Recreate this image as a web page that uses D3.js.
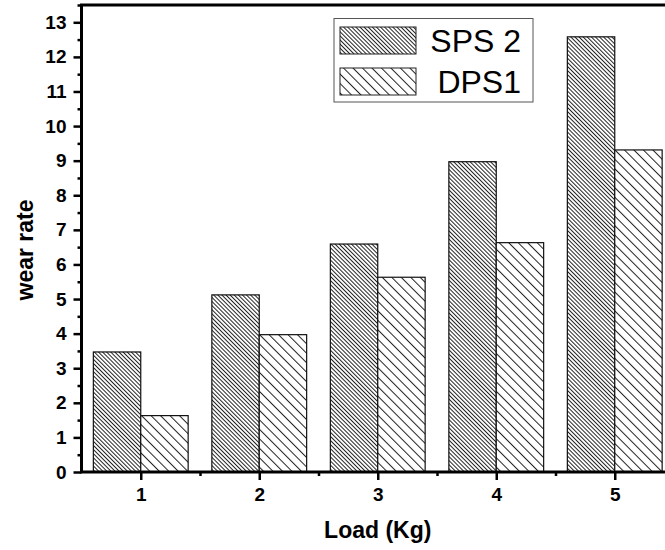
<!DOCTYPE html>
<html><head><meta charset="utf-8">
<script src="https://cdn.jsdelivr.net/npm/d3@7/dist/d3.min.js"></script>
<style>body{margin:0;background:#fff}svg{display:block}</style>
</head><body><svg id="c" width="665" height="550"></svg>
<script>
const loads = [1, 2, 3, 4, 5];
const sps2 = [3.47, 5.12, 6.59, 8.97, 12.58];
const dps1 = [1.63, 3.97, 5.63, 6.63, 9.31];
const seriesNames = ["SPS 2", "DPS1"];
const yTicks = [0,1,2,3,4,5,6,7,8,9,10,11,12,13];
const FONT = "Arial, 'Liberation Sans', sans-serif";

const svg = d3.select("#c");
const x = d3.scaleLinear().domain([0.5, 5.5]).range([81.5, 674]);
const y = d3.scaleLinear().domain([0, 13.5]).range([472, 5]);
const bw = x(1.4) - x(1);

const defs = svg.append("defs");
function hatch(id, s) {
  const p = defs.append("pattern").attr("id", id).attr("patternUnits", "userSpaceOnUse")
    .attr("width", s).attr("height", s).attr("patternTransform", "rotate(-45)");
  p.append("rect").attr("width", s).attr("height", s).attr("fill", "#fff");
  p.append("line").attr("x1", 0.5).attr("y1", 0).attr("x2", 0.5).attr("y2", s)
    .attr("stroke", "#222").attr("stroke-width", 1);
}
hatch("hs", 2.9);
hatch("hd", 6.7);

const data = [
  {name: seriesNames[0], vals: sps2, fill: "url(#hs)", off: -1},
  {name: seriesNames[1], vals: dps1, fill: "url(#hd)", off: 0}
];

data.forEach(s => {
  svg.append("g").selectAll("rect").data(loads).join("rect")
    .attr("x", (d) => s.off < 0 ? x(d) - bw : x(d))
    .attr("y", (d, i) => y(s.vals[i]))
    .attr("width", bw)
    .attr("height", (d, i) => y(0) - y(s.vals[i]))
    .attr("fill", s.fill).attr("stroke", "#111").attr("stroke-width", 1.2);
});

// axes
const yAxis = d3.axisLeft(y).tickValues(yTicks).tickSize(8).tickPadding(7).tickFormat(d3.format("d"));
const yg = svg.append("g").attr("transform", `translate(${x(0.5)},0)`).call(yAxis);
const yMinor = d3.axisLeft(y).tickValues(yTicks.map(d => d + 0.5)).tickSize(4).tickFormat("");
const ym = svg.append("g").attr("transform", `translate(${x(0.5)},0)`).call(yMinor);
const xAxis = d3.axisBottom(x).tickValues(loads).tickSize(8).tickPadding(8).tickFormat(d3.format("d"));
const xg = svg.append("g").attr("transform", `translate(0,${y(0)})`).call(xAxis);
const xMinor = d3.axisBottom(x).tickValues(loads.map(d => d + 0.5)).tickSize(4).tickFormat("");
const xm = svg.append("g").attr("transform", `translate(0,${y(0)})`).call(xMinor);
[yg, ym, xg, xm].forEach(g => {
  g.attr("font-size", null).attr("font-family", null);
  g.select(".domain").remove();
  g.selectAll(".tick line").attr("stroke", "#000").attr("stroke-width", 2.5);
  g.selectAll("text").style("font-size", "19px").style("font-weight", "bold").attr("fill", "#000")
    .style("font-family", FONT);
});

// frame
svg.append("rect").attr("x", x(0.5)).attr("y", y(13.5)).attr("width", x(5.5) - x(0.5))
  .attr("height", y(0) - y(13.5)).attr("fill", "none").attr("stroke", "#000").attr("stroke-width", 3);

// titles
svg.append("text").attr("x", (x(0.5) + x(5.5)) / 2).attr("y", 538).attr("text-anchor", "middle")
  .style("font-family", FONT).style("font-size", "23px").style("font-weight", "bold").text("Load (Kg)");
svg.append("text").attr("transform", `translate(33,250) rotate(-90)`)
  .attr("text-anchor", "middle").style("font-family", FONT).style("font-size", "23px")
  .style("font-weight", "bold").text("wear rate");

// legend
const lg = svg.append("g");
lg.append("rect").attr("x", 334).attr("y", 18.5).attr("width", 199).attr("height", 83.5)
  .attr("fill", "#fff").attr("stroke", "#555").attr("stroke-width", 1);
data.forEach((s, i) => {
  lg.append("rect").attr("x", 340).attr("y", 27 + i * 41).attr("width", 76).attr("height", 27)
    .attr("fill", s.fill).attr("stroke", "#222").attr("stroke-width", 1);
  lg.append("text").attr("x", 521).attr("y", 52 + i * 41).attr("text-anchor", "end")
    .style("font-family", FONT).style("font-size", "32px").attr("fill", "#000").text(s.name);
});
</script></body></html>
